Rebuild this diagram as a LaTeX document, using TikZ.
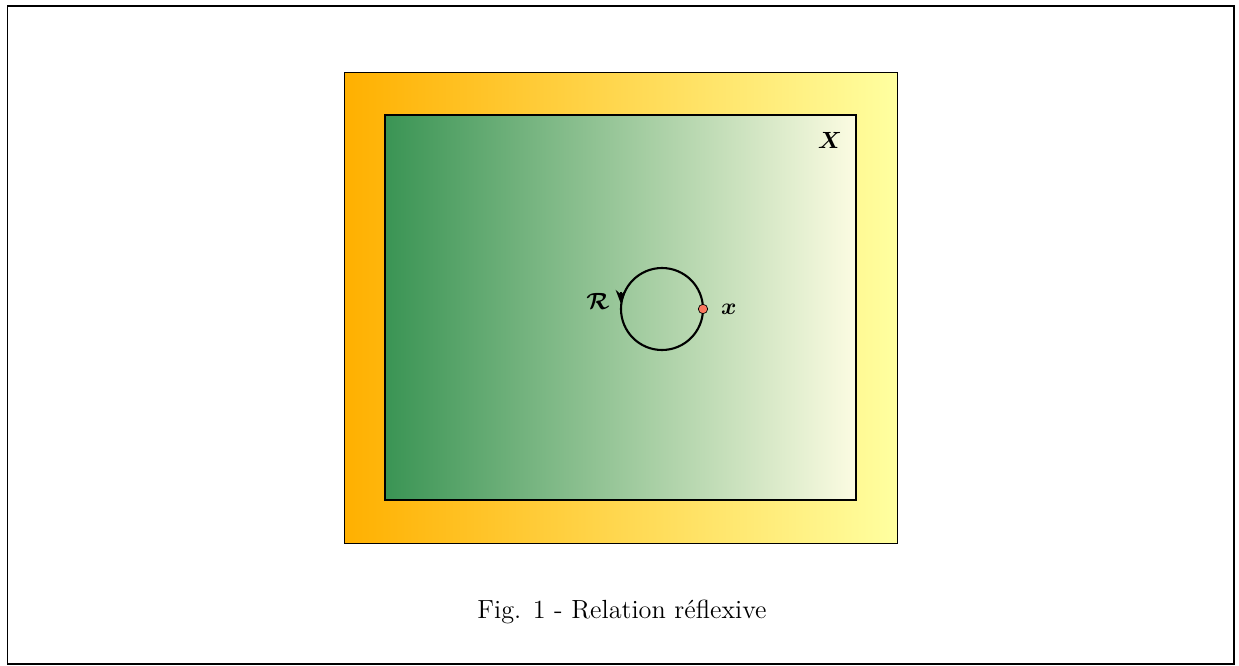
\documentclass[tikz,border=0pt]{standalone}
\usepackage{amsmath}
\usepackage{amssymb}
\usepackage{xcolor}
\usepackage{tikz}
\usetikzlibrary{arrows.meta, positioning, calc}

\definecolor{orangeL}{RGB}{255,176,0}
\definecolor{orangeR}{RGB}{255,255,160}
\definecolor{greenL}{RGB}{58,148,84}
\definecolor{greenR}{RGB}{252,252,226}
\definecolor{dotred}{RGB}{250,120,95}

\begin{document}
\begin{tikzpicture}[
  x=0.015cm, y=-0.015cm,
  frame/.style={draw, line width=0.8pt},
  outerset/.style={draw, thin, left color=orangeL, right color=orangeR},
  innerset/.style={draw, line width=0.9pt, left color=greenL, right color=greenR},
  loopline/.style={line width=0.9pt},
  elem/.style={circle, draw, fill=dotred, inner sep=0pt, minimum size=4pt, line width=0.3pt},
  lbl/.style={font=\normalsize}
]
\useasboundingbox (0,0) rectangle (1239,666);
\draw[frame] (7.5,6) rectangle (1234,664);

% the sets
\path[outerset] (344,72) rectangle (897,543);
\path[innerset] (385,115) rectangle (856,500);
\node[lbl] (setX) at (830,140) {$\boldsymbol{X}$};

% the loop x R x
\coordinate (centre) at (662,309);
\draw[loopline] (centre) circle[radius=41];
\draw[loopline, -{Stealth[length=6pt,width=4.5pt]}] (621,292) -- (621,304);
\node[elem] (x) at (703,309) {};
\node[lbl, right=2pt of x] (xlabel) {$\boldsymbol{x}$};
\node[lbl] (rel) at (598,301) {$\boldsymbol{\mathcal{R}}$};

% caption
\node[font=\fontsize{11.2}{13}\selectfont] (caption) at (622,612) {Fig. 1 - Relation réflexive};
\end{tikzpicture}
\end{document}
